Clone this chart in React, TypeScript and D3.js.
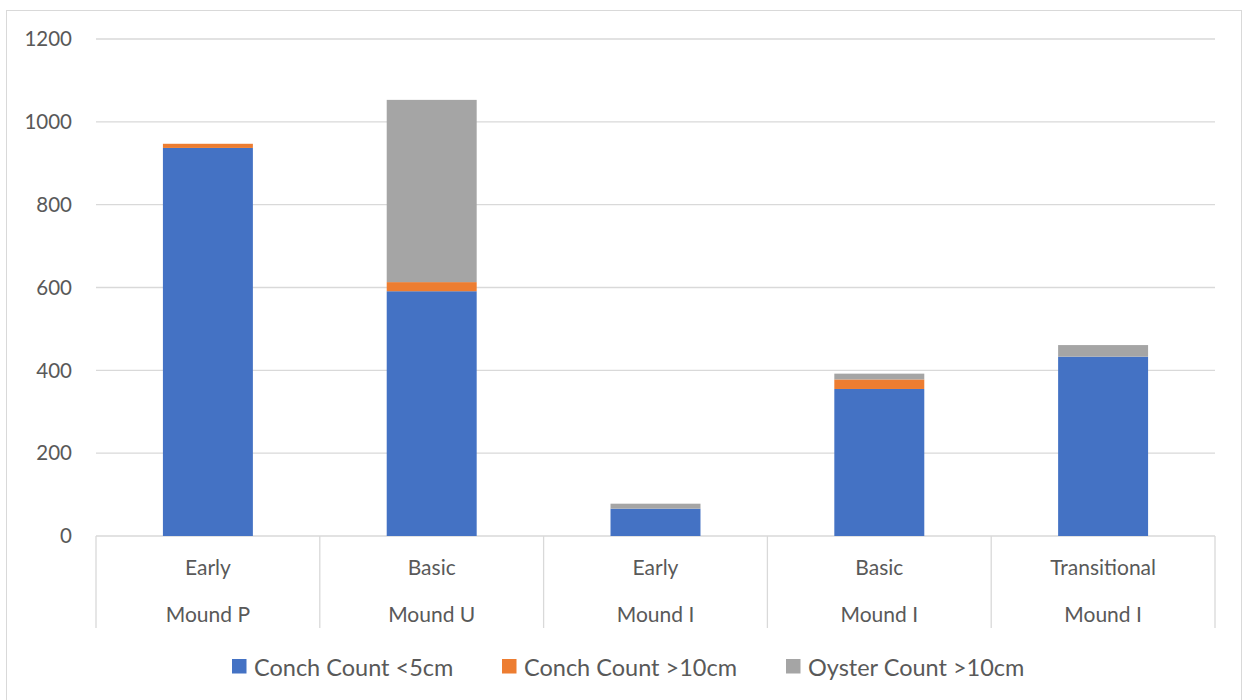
import React from "react";
import * as d3 from "d3";

// Shell counts per mound / phase
const phases = ["Early", "Basic", "Early", "Basic", "Transitional"];
const mounds = ["Mound P", "Mound U", "Mound I", "Mound I", "Mound I"];
const conchSmall = [937, 591, 66, 355, 433];
const conchLarge = [10, 22, 0, 23, 0];
const oysterLarge = [0, 440, 12, 14, 28];
const seriesNames = ["Conch Count <5cm", "Conch Count >10cm", "Oyster Count >10cm"];
const seriesColors = ["#4472C4", "#ED7D31", "#A5A5A5"];
const yTicks = [0, 200, 400, 600, 800, 1000, 1200];

const W = 1244;
const H = 700;
const plot = { left: 96, right: 1215, top: 39, bottom: 536 };
const FONT = "Lato, 'Open Sans', sans-serif";
const TEXT = "#595959";
const GRID = "#d9d9d9";

export default function App() {
  const idx = phases.map((_, i) => i);
  const x = d3
    .scaleBand<number>()
    .domain(idx)
    .range([plot.left, plot.right])
    .paddingInner(0.598)
    .paddingOuter(0.299);
  const cell = d3.scaleBand<number>().domain(idx).range([plot.left, plot.right]).padding(0);
  const y = d3.scaleLinear().domain([0, 1200]).range([plot.bottom, plot.top]);

  const rows = idx.map((i) => ({ i, s0: conchSmall[i], s1: conchLarge[i], s2: oysterLarge[i] }));
  const stacked = d3.stack<any>().keys(["s0", "s1", "s2"])(rows);

  const legendItems = [
    { sx: 232, tx: 254 },
    { sx: 502, tx: 524 },
    { sx: 786, tx: 808 },
  ];

  return (
    <svg width={W} height={H} style={{ position: "absolute", left: 0, top: 0, background: "#fff" }}>
      <rect x={6.5} y={10.5} width={1235} height={H} fill="#fff" stroke={GRID} strokeWidth={1} />
      {/* gridlines */}
      {yTicks.map((t) => (
        <line key={t} x1={plot.left} x2={plot.right} y1={y(t)} y2={y(t)} stroke={GRID} strokeWidth={1.3} />
      ))}
      {/* y tick labels */}
      {yTicks.map((t) => (
        <text key={"l" + t} x={72} y={y(t)} dy="0.35em" textAnchor="end" fontFamily={FONT} fontSize={20.5} fill={TEXT}>
          {t}
        </text>
      ))}
      {/* stacked bars */}
      {stacked.map((layer, si) =>
        layer.map((d, i) => (
          <rect
            key={si + "-" + i}
            x={x(i)}
            width={x.bandwidth()}
            y={y(d[1])}
            height={Math.max(0, y(d[0]) - y(d[1]))}
            fill={seriesColors[si]}
          />
        ))
      )}
      {/* category axis dividers */}
      {[...idx, idx.length].map((i) => {
        const xx = i < idx.length ? (cell(i) as number) : plot.right;
        return <line key={"d" + i} x1={xx} x2={xx} y1={plot.bottom} y2={628} stroke={GRID} strokeWidth={1.3} />;
      })}
      {/* category labels */}
      {idx.map((i) => {
        const cx = (cell(i) as number) + cell.bandwidth() / 2;
        return (
          <g key={"c" + i} fontFamily={FONT} fontSize={21} fill={TEXT} textAnchor="middle">
            <text x={cx} y={575}>{phases[i]}</text>
            <text x={cx} y={621.5}>{mounds[i]}</text>
          </g>
        );
      })}
      {/* legend */}
      {seriesNames.map((name, si) => (
        <g key={"lg" + si}>
          <rect x={legendItems[si].sx} y={659} width={14.5} height={14.5} fill={seriesColors[si]} />
          <text x={legendItems[si].tx} y={675.5} fontFamily={FONT} fontSize={23.5} fill={TEXT}>
            {name}
          </text>
        </g>
      ))}
    </svg>
  );
}
